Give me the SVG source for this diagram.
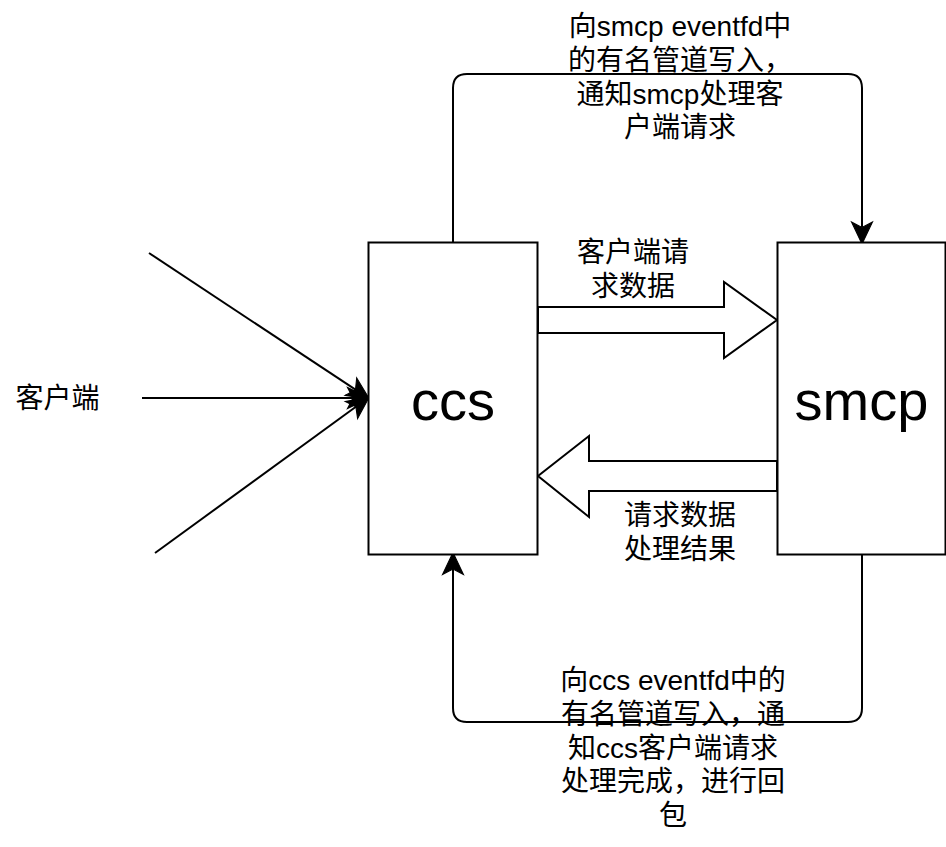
<svg xmlns="http://www.w3.org/2000/svg" width="946" height="847" viewBox="0 0 946 847">
  <style>
    .box { fill: #ffffff; stroke: #000000; stroke-width: 2; }
    .big { font-family: "Liberation Sans", Arial, "Noto Sans CJK SC", sans-serif; font-size: 56px; fill: #000000; text-anchor: middle; }
    .lbl { font-family: "Liberation Sans", Arial, "Noto Sans CJK SC", sans-serif; font-size: 28px; fill: #000000; text-anchor: middle; }
    .edge { fill: none; stroke: #000000; stroke-width: 2; }
    .fat { fill: #ffffff; stroke: #000000; stroke-width: 2; stroke-linejoin: miter; }
  </style>
  <defs>
    <marker id="arrow" markerUnits="userSpaceOnUse" markerWidth="22" markerHeight="22" viewBox="0 0 20 20" refX="5" refY="10" orient="auto" overflow="visible">
      <path d="M20,10 L0,0.5 L5,10 L0,19.5 Z" fill="#000000" stroke="#000000" stroke-width="1"/>
    </marker>
  </defs>

  <g id="connectors">
    <path class="edge" d="M453,242.5 V88 Q453,74 467,74 H848 Q862,74 862,88 V227.5" marker-end="url(#arrow)"/>
    <path class="edge" d="M862,554 V708 Q862,722 848,722 H467 Q453,722 453,708 V569" marker-end="url(#arrow)"/>
    <path class="edge" d="M149,253 L355.5,389.7" marker-end="url(#arrow)"/>
    <path class="edge" d="M142,398 L353,398" marker-end="url(#arrow)"/>
    <path class="edge" d="M155,553 L355.9,406.8" marker-end="url(#arrow)"/>
    <polygon class="fat" points="538,307 724,307 724,282 777,320 724,358 724,333 538,333"/>
    <polygon class="fat" points="777,461 589,461 589,436 538,476 589,517 589,491 777,491"/>
  </g>

  <g id="node-ccs">
    <rect class="box" x="368.5" y="242.5" width="169" height="312"/>
    <text class="big" x="453" y="420">ccs</text>
  </g>

  <g id="node-smcp">
    <rect class="box" x="777.5" y="242.5" width="168" height="312"/>
    <text class="big" x="861.5" y="420">smcp</text>
  </g>

  <g id="node-client">
    <text class="lbl" x="57.5" y="408">客户端</text>
  </g>

  <g id="label-top">
    <text class="lbl" x="680" y="36">向smcp eventfd中</text>
    <text class="lbl" x="680" y="70">的有名管道写入，</text>
    <text class="lbl" x="680" y="103.5">通知smcp处理客</text>
    <text class="lbl" x="680" y="137">户端请求</text>
  </g>

  <g id="label-request">
    <text class="lbl" x="633" y="262">客户端请</text>
    <text class="lbl" x="633" y="295.5">求数据</text>
  </g>

  <g id="label-result">
    <text class="lbl" x="680" y="525">请求数据</text>
    <text class="lbl" x="680" y="558.5">处理结果</text>
  </g>

  <g id="label-bottom">
    <text class="lbl" x="673" y="690">向ccs eventfd中的</text>
    <text class="lbl" x="673" y="724">有名管道写入，通</text>
    <text class="lbl" x="673" y="757.5">知ccs客户端请求</text>
    <text class="lbl" x="673" y="791">处理完成，进行回</text>
    <text class="lbl" x="673" y="825">包</text>
  </g>
</svg>
